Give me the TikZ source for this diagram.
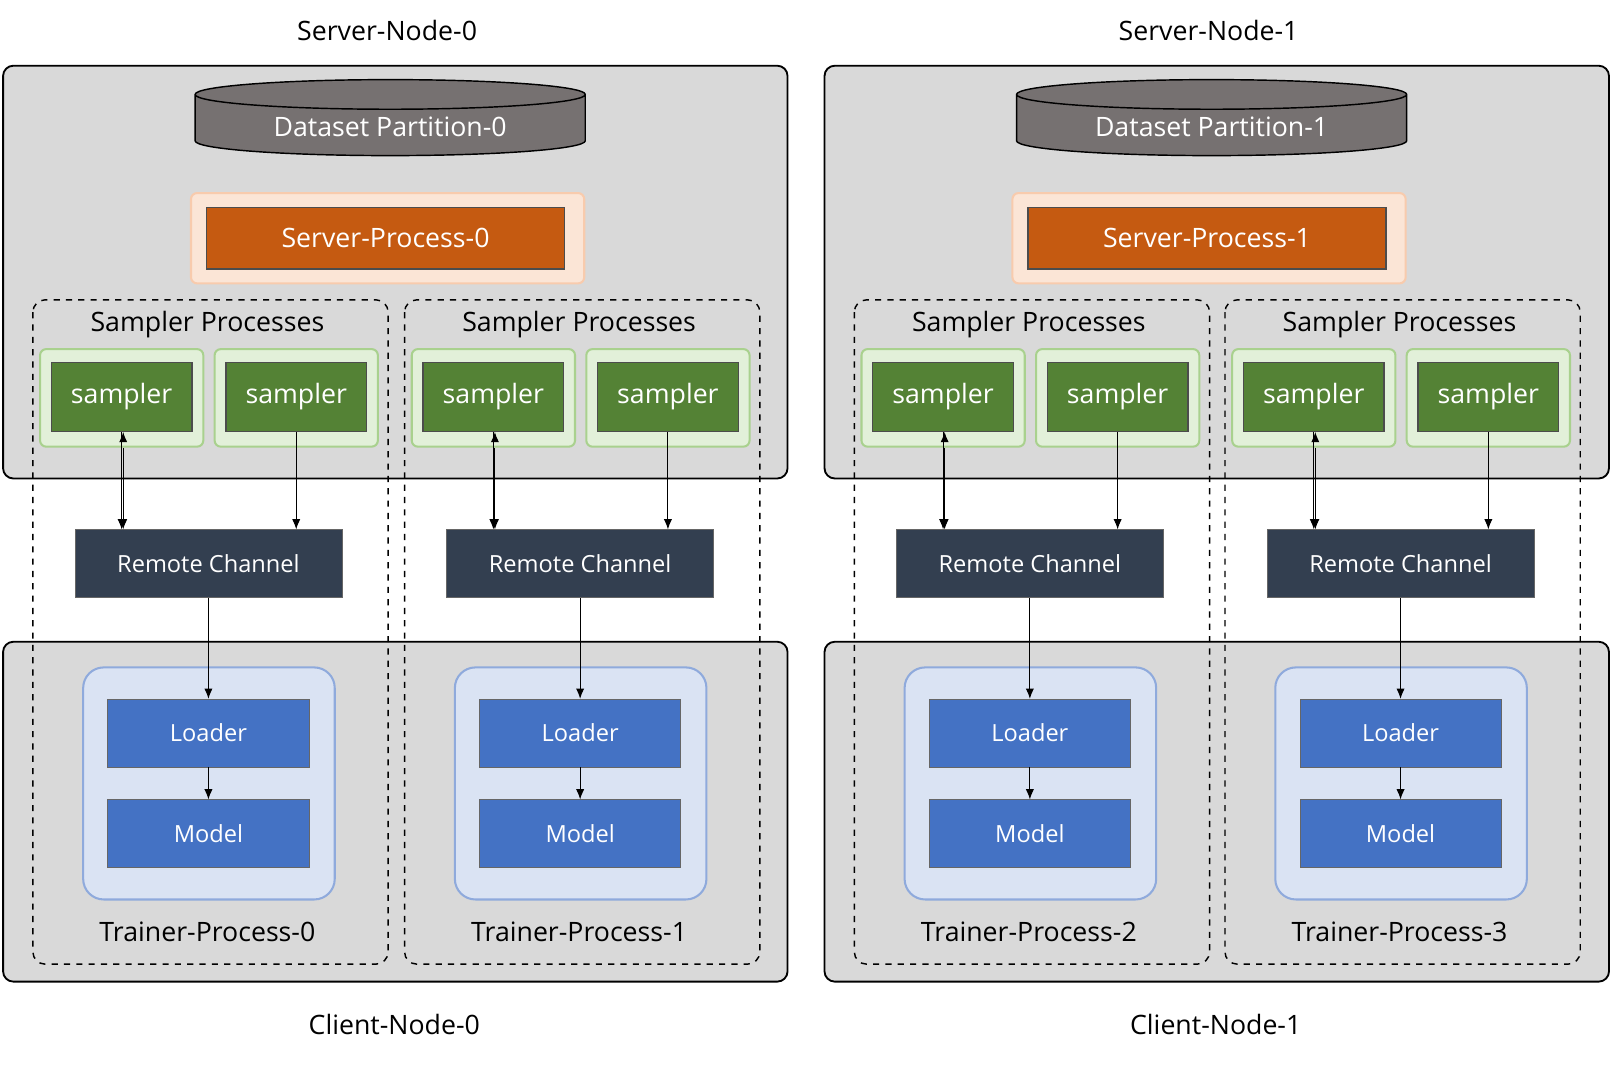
\documentclass[tikz,border=0pt]{standalone}
\usepackage{fontspec}
\setmainfont{Open Sans}
\usetikzlibrary{shapes.geometric,arrows.meta}
\definecolor{gbg}{HTML}{D9D9D9}
\definecolor{cyl}{HTML}{767171}
\definecolor{spo}{HTML}{FBE5D6}
\definecolor{spb}{HTML}{F8CBAD}
\definecolor{spi}{HTML}{C55A11}
\definecolor{smo}{HTML}{E2F0D9}
\definecolor{smb}{HTML}{A9D18E}
\definecolor{smi}{HTML}{548235}
\definecolor{rc}{HTML}{333F50}
\definecolor{tro}{HTML}{DAE3F3}
\definecolor{trb}{HTML}{8FAADC}
\definecolor{lm}{HTML}{4472C4}
\begin{document}
\begin{tikzpicture}[x=0.5pt,y=-0.5pt,
 nodebox/.style={draw=black,line width=0.9pt,fill=gbg,rounded corners=5pt},
 dashbox/.style={draw=black,dashed,line width=0.7pt,rounded corners=6pt},
 lbl/.style={font=\fontsize{13}{15}\selectfont},
 arr/.style={-{Latex[length=5pt,width=4pt]},line width=0.5pt},
 box/.style={minimum width=#1*0.5pt,inner sep=0pt,text=white}]
\useasboundingbox (0,0) rectangle (1568,1038);
\foreach \i/\dx in {0/0,1/800}{
 \begin{scope}[xshift=\dx*0.5pt]
 \draw[nodebox] (3,64) rectangle (767,466);
 \draw[nodebox] (3,625) rectangle (767,956);
 \node[lbl] (sn\i) at (377,30) {Server-Node-\i};
 \node[lbl] (cn\i) at (384,998) {Client-Node-\i};
 \node[cylinder,shape border rotate=90,aspect=0.12,draw=black,line width=0.7pt,fill=cyl,minimum width=190pt,minimum height=37pt,text=white,lbl] (ds\i) at (380,124) {Dataset Partition-\i};
 \draw[spb,fill=spo,line width=1pt,rounded corners=3pt] (186,188) rectangle (569,276);
 \node[draw=black!70,fill=spi,minimum width=174.5pt,minimum height=30pt,text=white,lbl,line width=0.7pt] (sp\i) at (375.5,232) {Server-Process-\i};
 \end{scope}}
\foreach \j/\x in {0/0,1/362,2/800,3/1161}{
 \begin{scope}[xshift=\x*0.5pt]
 \draw[dashbox] (32,292) rectangle (378,939);
 \node[lbl] (spl\j) at (202,316) {Sampler Processes};
 \foreach \k/\sx in {a/0,b/170}{
  \draw[smb,fill=smo,line width=1pt,rounded corners=3pt] (39+\sx,340) rectangle (198+\sx,435);
  \node[draw=black!70,fill=smi,minimum width=68.5pt,minimum height=33.5pt,text=white,lbl,line width=0.7pt] (s\j\k) at (118.5+\sx,386.5) {sampler};
 }
 \node[draw=black!60,fill=rc,minimum width=130pt,minimum height=33pt,text=white,font=\fontsize{11.5}{13}\selectfont] (rc\j) at (203,549) {Remote Channel};
 \draw[arr] (s\j a.south -| 120,0) ++(0,0) coordinate (ta\j);
 \draw[arr] (120,436) -- (rc\j.north -| 120,0);
 \draw[trb,fill=tro,line width=1pt,rounded corners=10pt] (81,650) rectangle (326,876);
 \node[draw=black!60,fill=lm,minimum width=98pt,minimum height=33pt,text=white,font=\fontsize{11.5}{13}\selectfont] (ld\j) at (203,714) {Loader};
 \node[draw=black!60,fill=lm,minimum width=98pt,minimum height=33pt,text=white,font=\fontsize{11.5}{13}\selectfont] (md\j) at (203,812) {Model};
 \node[lbl] (tp\j) at (202,908) {Trainer-Process-\j};
 \draw[arr] (rc\j) -- (ld\j);
 \draw[arr] (ld\j) -- (md\j);
 \end{scope}}
\foreach \j in {0,1,2,3}{
 \draw[arr] (s\j a.south) ++(1,0) coordinate (c) (s\j a.south) -- (s\j a.south |- rc\j.north);
 \draw[arr] (s\j b.south) -- (s\j b.south |- rc\j.north);
}
\end{tikzpicture}
\end{document}
